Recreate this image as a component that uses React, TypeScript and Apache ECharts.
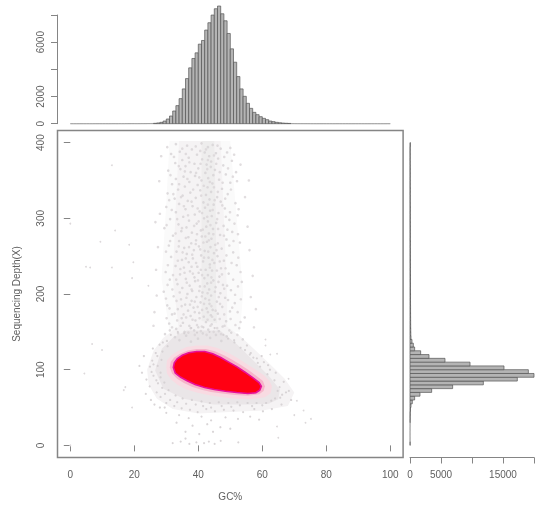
import React, { useEffect, useRef } from "react";
import * as echarts from "echarts";

const gcCounts = [
  2,0,0,1,0,1,0,1,1,2,
  1,2,2,3,2,4,3,5,6,8,
  6,8,9,11,14,18,28,55,100,195,
  345,565,935,1330,1845,2560,3320,4110,4800,5215,
  5855,6125,6890,7430,7995,8460,8660,8090,7575,6640,
  5510,4525,3470,2560,2015,1500,1130,835,665,515,
  395,295,195,150,100,70,45,30,20,12,
  8,6,5,4,3,2,2,1,2,1,
  1,1,0,1,0,0,1,0,0,0,
  1,0,0,0,0,1,0,0,0,1,
];
const depthCounts = [
  25,15,12,12,15,18,25,30,40,80,
  160,375,750,1610,3495,6880,11830,17310,20000,19090,
  15160,9680,5645,3065,1720,750,540,320,160,130,
  120,110,105,100,95,90,90,85,80,85,
  80,75,80,70,75,70,65,70,60,65,
  60,60,55,60,50,55,50,55,50,45,
  50,45,50,45,40,45,40,45,40,40,
  35,40,35,40,35,30,35,30,35,60,
];
const gcTicks = [0, 20, 40, 60, 80, 100];
const depthTicks = [0, 100, 200, 300, 400];
const topTicks = [0, 2000, 4000, 6000, 8000];
const topLabels = [0, 2000, 6000];
const rightTicks = [0, 5000, 10000, 15000, 20000];
const rightLabels = [0, 5000, 15000];

const plumeOuter = [[31,402],[50,402],[52,300],[54,200],[53,150],[31,150],[28.5,220],[30,320]];
const plumeInner = [[34,402],[47,402],[48,300],[49,200],[49,150],[34,150],[32,220],[33,320]];
const plumeStreak = [[41,402],[45,402],[45.5,300],[45.5,200],[46,150],[41,150],[41,250]];
const hazeOuter = [[24,100],[26,125],[29,142],[33,155],[40,165],[48,160],[53,145],[58,125],[63,105],[67,88],[70,70],[68,52],[60,46],[50,44],[40,42],[32,48],[27,62],[24.5,80]];
const hazeInner = [[26.5,99],[28.6,127.6],[32.2,143],[36.4,151.8],[46.8,151.8],[52,134],[57.2,112],[62,92],[65.5,74],[65,61],[62,55],[55.1,54],[44.7,54],[35.4,61.6],[29.1,74.8]];
const pinkOuter = [[30,103],[30.2,112],[31.6,119],[33.5,124.5],[36.3,130],[39.5,132],[42.8,132],[46,128.5],[49.5,122],[52,116],[55,108],[58,100],[60.5,92.5],[62.3,85],[63,78],[62.6,69],[60.8,63.5],[56,61],[51,62],[47,64],[43,66.5],[39.5,70],[36.3,74],[33.5,80],[31.5,87],[30.2,95]];
const pinkInner = [[31.1,103],[31.4,110.5],[32.5,116],[34.3,121],[36.7,125.5],[39.5,127.5],[42.3,127.5],[45.2,124.5],[48,119],[50.6,113],[53.2,106.5],[55.7,99.5],[58.1,92],[60.2,85],[60.8,78],[60.4,72],[59,67.5],[55.5,65.5],[51.5,66.5],[47.5,68.5],[44,70.5],[41,73.5],[38,77.5],[35.5,82.5],[33.4,88],[31.8,95]];
const coreOutline = [[32.2,103],[32.5,109],[33.4,114.5],[35,119],[37,122.5],[39.5,124],[42,124],[44.5,121],[47,116],[49.5,110],[52,104],[54.5,97],[57,89.5],[59,83],[59.7,78],[59.2,73],[58,69.5],[55.5,68.5],[52,69.8],[48.5,71.5],[45,73.8],[42,76.5],[39,80.5],[36.5,85.5],[34.5,90],[32.8,95.5]];

const plumeDots = [
  [33,398],[36.5,396],[41,399],[43,394],[44.5,397],[47,392],[38,391],[34.2,388],[42,387],[45.5,386],[39.6,384],[31.5,385],[49,387],[43.4,382],[37,380],[35,377],[41.2,378],[46.2,379],[50.5,376],[44,375],[32.8,373],[38.8,372],[42.6,371],[47.8,370],[36,369],[43.9,368],[40,366],[34.4,365],[45.2,364],[30.6,363],[51.8,361],[37.6,361],[42.2,360],[48.6,358],[44.7,357],[39,356],[35.4,355],[33,352],[43.1,353],[46.5,351],[41,350],[37.2,348],[50,347],[44.4,346],[31.8,345],[39.8,344],[35.8,342],[42.9,341],[47.4,339],[33.7,338],
  [40.6,337],[44,335],[37.5,334],[30.4,333],[49.2,332],[42.4,331],[35.1,330],[45.9,328],[39.2,327],[32.6,326],[43.5,325],[36.7,323],[47,322],[41.6,321],[51.6,320],[34,319],[44.8,318],[38.2,316],[30,315],[42.1,314],[48.3,313],[36,312],[43.7,310],[40.4,309],[33,308],[46.3,307],[38.9,305],[52.3,304],[44.2,303],[35.3,302],[41.8,300],[31.2,299],[49.7,298],[37.1,297],[43,296],[45.6,294],[39.5,293],[33.8,292],[47.9,290],[42.5,289],[36.3,288],[29.4,287],[44.6,286],[40.8,284],[34.7,283],[50.6,282],[38,281],[43.3,280],[46.8,278],[32.1,277],
  [41.1,276],[36.9,275],[44.1,273],[48.8,272],[39.3,271],[34,270],[42.7,269],[53,268],[37.8,267],[45.3,265],[30.8,264],[40.2,263],[43.8,262],[35.6,261],[47.3,260],[38.6,258],[42,257],[33.2,256],[50.9,255],[44.9,254],[36.4,253],[40.9,251],[46,250],[31.5,249],[43.2,248],[38.3,247],[34.9,245],[48,244],[41.5,243],[37,242],[45,241],[43.6,239],[52,238],[32.9,237],[39.7,236],[35.5,235],[47.1,234],[42.3,232],[44.3,231],[37.4,230],[29.8,229],[40.1,228],[49.5,227],[34.3,226],[43,225],[46.6,223],[38.8,222],[41.9,221],[36.1,220],[31.1,219],
  [44.7,218],[39,217],[53.6,216],[42.8,214],[33.5,213],[47.7,212],[37.3,211],[40.5,210],[45.4,209],[35,208],[43.4,206],[50.2,205],[38.1,204],[29.2,203],[41.3,202],[46.9,201],[36.6,200],[44,198],[32.3,197],[39.4,196],[48.4,195],[42.2,194],[34.6,193],[37.9,191],[45.8,190],[40.7,189],[51.4,188],[43.5,187],[35.9,186],[30.3,185],[47.5,183],[38.5,182],[42.6,181],[33.6,180],[44.5,179],[36.8,178],[49.9,177],[40.3,175],[46.1,174],[31.8,173],[43.9,172],[37.6,171],[41.7,170],[54.5,169],[34.8,168],[45.1,166],[39.1,165],[48.7,164],[42.4,163],[35.2,162],
  [30.9,161],[44.2,160],[37.2,158],[47.6,157],[40,156],[52.8,155],[33.1,154],[43.1,153],[38.7,152],[46.4,151],[35.7,150],[50.3,149],[41.4,148],[29.6,147],[45.5,146],[36.2,145],[48.9,144],[32.7,143],[43.7,142],[39.9,141],[53.9,140],[34.1,139],[47.2,138],[37.7,137],
];
const plumeDotsExtra = [
  [30.3,394],[35,392],[39.2,395],[42.4,391],[46,396],[50,393],[32.4,381],[36.1,385],[40.6,389],[44.9,383],[48.1,381],[51.2,384],[33.9,369],[37.2,374],[40.7,372],[43,377],[45.6,372],[49.3,366],[31.3,357],[35.8,362],[39.3,360],[42.8,365],[46.7,361],[50.8,355],[34,345],[36.6,352],[40.3,354],[43.6,348],[47.6,347],[52.1,349],[32.2,332],[38.4,338],[41.7,343],[44.9,341],[46.1,335],[50.2,338],
  [30.9,324],[34.6,328],[37.9,322],[40.9,330],[43,318],[45.1,324],[48.4,326],[52.6,312],[31.7,311],[35.5,316],[39.8,313],[41.2,307],[44.5,311],[47.5,317],[49.9,308],[33.4,299],[36.8,304],[40.1,296],[42.8,302],[45.9,299],[48.6,302],[51.3,293],[30.1,291],[34.9,287],[38.7,290],[41.4,285],[43.8,291],[46.2,286],[49.1,285],[52.4,279],[32.9,280],[36.1,274],[39.6,279],[42.2,276],[44.7,279],[48,277],[51,270],
  [31.2,270],[33.9,263],[37.1,262],[39.2,266],[41.6,268],[43.3,271],[46.1,267],[49.7,264],[29.9,256],[35.1,255],[38.1,252],[40.6,259],[43.1,256],[45.7,258],[48.8,251],[52.5,248],[33.6,244],[36.1,247],[39.3,241],[41.8,248],[44.4,245],[46.7,243],[50.4,241],[30.5,238],[34.4,233],[37.9,236],[40.8,232],[43.6,235],[45.8,231],[48.5,234],[53.2,229],[32.1,225],[35.7,228],[38.3,227],[41.2,225],[44.1,222],[47.4,226],[50.9,219],
  [30.4,212],[33.1,219],[36.4,215],[39.9,218],[42,210],[44,215],[46.3,216],[49,211],[52.4,210],[31.9,206],[34.2,202],[37.9,206],[40.3,204],[42.9,201],[45.2,203],[48.1,207],[51.5,199],[29.9,194],[33.2,191],[36.3,195],[38.9,190],[41.1,197],[43.4,192],[46.4,196],[49.3,192],[53.3,193],[31,181],[34.8,184],[37.4,186],[39.8,183],[41.8,187],[44.1,184],[46.8,187],[50.6,182],[32.6,174],[35.4,173],[38.9,176],[41.2,179],[43,176],[45.4,178],[48.1,173],[52.3,176],
  [30.1,168],[33.4,165],[36.2,169],[38.2,166],[40.4,168],[42.9,166],[44.3,170],[46.7,167],[50.1,167],[53.2,163],[31.8,156],[34.5,158],[37.6,155],[39.6,159],[41.1,157],[43.8,158],[45.9,155],[48.2,158],[51.6,159],[33.7,148],[36.9,149],[38.9,146],[40.8,151],[42.6,146],[44.8,150],[47.1,147],[49.7,152],[52.2,146],[31.1,152],
  [28.4,382],[53.2,371],[27.8,349],[54.6,328],[28,306],[55.4,289],[27.4,262],[56,258],[26.8,232],[57,224],[27,198],[56.4,196],[26.3,176],[58,180],[26,158],[57.4,156],[55.8,350],[26.6,295],
];
const haloDots = [
  [55.2,132],[27.9,133],[30.2,138],[51.2,139],[56.4,122],[58.3,115],[27.2,118],[25.6,112],[24.9,104],[26,92],[23.8,87],[24.8,78],[27,70],[28.2,64],[25.2,60],[30,56],[32.5,52],[34.8,49],[37.4,47],[39.8,44],[42.5,48],[45.2,45],[48,47],[51,46],[54,44],[57.5,48],
  [60.2,45],[63,48],[66,54],[69,60],[68.3,72],[66.7,84],[64.2,96],[61.8,106],[59.8,118],[34,40],[37,36],[41,38],[44,33],[48.5,37],[52.4,35],[56.2,38],[59,34],[30,43],[28,50],[26.3,54],[23.6,68],[22.4,96],[21.6,105],[23,118],[25.8,128],[29.5,50],[33.2,30],[38.2,26],[42.8,28],[46.9,24],[36,18],[40.3,15],[44.6,18],[50,22],[32,3],[34.5,5],[36,9],[37.2,2],[39.4,4],[41.8,3],[43.3,5],[45.1,2],[47,6],[52.5,4],
  [28.2,96],[27.4,82],[29.6,68],[31.2,60],[33.4,57],[36.2,55],[39.2,54],[41.5,52],[44,50],[47.3,52],[50.3,51],[53,53],[56.8,52],[60,53],[62.8,59],[65.6,63],[67.4,70],[65.4,77],[63.8,86],[61.6,94],[59.3,104],[57.2,116],[54.6,126],[51.3,136],[47.8,146],[43.5,150],[39.6,149],[35.6,148],[31.4,146],[28.9,136],[26.7,122],[26,107],[25.4,97],[26.9,86],[28.7,76],
  [27.3,105],[28.5,113],[28.2,90],[29.4,83],[30.7,73],[32.9,66],[35.1,62],[38,60],[41,58],[43.6,56],[46.4,57],[49.4,56],[52.2,57],[55.4,56],[58.2,56],[61.2,56],[64,62],[66.2,67],[64.8,72],[62.4,100],[60.5,110],[58.6,109],[56.1,120],[53.2,129],[49.3,141],[45.1,155],[41.6,156],[37.8,155],[33.6,150],[30.4,131],[28.8,124],
];
const farDots = [
  [13,370],[0,293],[14,284],[9.4,269],[18.4,265],[19.7,242],[4.9,236],[6.2,235],[13,235],[19.3,221],[24.4,211],[4.4,95],[6.8,134],[9.9,126],[0,0],[19.3,50],[16.7,73],[17.2,77],[72.9,46],[75.2,35],[65,10],[64.6,25],[70.8,59],[68.2,88],[64.6,121],[62.5,120],[61,132],[61,140],[70,40],[73.5,30],
];

const underContours = [plumeOuter, plumeInner, plumeStreak, hazeOuter, hazeInner];
const underStyles = [
  { fill: "#fafafa" },
  { fill: "#f5f3f4" },
  { fill: "#eeeded" },
  { fill: "#f5f3f4" },
  { fill: "#eae6e8" },
];
const overContours = [pinkOuter, pinkInner, coreOutline];
const overStyles = [
  { fill: "#f8dbe2" },
  { fill: "#f7b4c9" },
  { fill: "#ff0012", stroke: "#e8109a", lineWidth: 1.6 },
];

const BOX = "#858585";
const TEXT = "#5f5f5f";
const FONT = "Liberation Sans";
const X_RANGE = { min: -4, max: 104 };
const Y_RANGE = { min: -16, max: 416 };

function contourSeries(shapes: number[][][], styles: any[], z: number) {
  return {
    type: "custom",
    xAxisIndex: 0,
    yAxisIndex: 0,
    z,
    clip: true,
    silent: true,
    data: shapes.map((_, i) => [i]),
    renderItem: (_p: any, api: any) => {
      const i = api.value(0);
      return {
        type: "polygon",
        shape: { points: shapes[i].map((p) => api.coord(p)) },
        style: styles[i],
      };
    },
  };
}

function histSeries(data: number[][], axis: number, horizontal: boolean) {
  return {
    type: "custom",
    xAxisIndex: axis,
    yAxisIndex: axis,
    silent: true,
    clip: false,
    data,
    renderItem: (_p: any, api: any) => {
      const lo = api.value(0);
      const hi = api.value(1);
      const n = api.value(2);
      const a = horizontal ? api.coord([0, hi]) : api.coord([lo, n]);
      const b = horizontal ? api.coord([n, lo]) : api.coord([hi, 0]);
      return {
        type: "rect",
        shape: { x: a[0], y: a[1], width: b[0] - a[0], height: b[1] - a[1] },
        style: { fill: "#b4b4b4", stroke: n < 20 ? "#999999" : "#555555", lineWidth: 0.7 },
      };
    },
  };
}

const plain = (v: number) => String(v);

export default function App() {
  const ref = useRef<HTMLDivElement>(null);
  useEffect(() => {
    const chart = echarts.init(ref.current!, undefined, { renderer: "svg" });
    const label = { color: TEXT, fontSize: 10, fontFamily: FONT };
    const line = { lineStyle: { color: BOX, width: 1 } };
    const dots = (data: number[][], size: number, color: string, opacity: number) => ({
      type: "scatter", xAxisIndex: 0, yAxisIndex: 0, z: 2, silent: true, symbol: "circle", symbolSize: size,
      data, itemStyle: { color, opacity },
    });
    chart.setOption({
      animation: false,
      backgroundColor: "#ffffff",
      grid: [
        { left: 57.5, top: 130.5, width: 345.6, height: 327, show: true, borderColor: BOX, borderWidth: 1.5, backgroundColor: "#ffffff" },
        { left: 57.5, top: 15, width: 345.6, height: 108.7 },
        { left: 410, top: 130.5, width: 124, height: 327 },
      ],
      xAxis: [
        {
          gridIndex: 0, type: "value", ...X_RANGE, position: "bottom", splitLine: { show: false },
          axisLine: { show: false },
          axisTick: { show: true, length: 6, customValues: gcTicks, ...line },
          axisLabel: { ...label, margin: 12, customValues: gcTicks, formatter: plain },
          name: "GC%", nameLocation: "middle", nameGap: 34, nameTextStyle: { ...label },
        },
        { gridIndex: 1, type: "value", ...X_RANGE, show: false },
        {
          gridIndex: 2, type: "value", min: 0, max: 20000, position: "bottom", splitLine: { show: false },
          axisLine: { show: true, onZero: false, ...line },
          axisTick: { show: true, length: 6, customValues: rightTicks, ...line },
          axisLabel: { ...label, margin: 12, customValues: rightLabels, formatter: plain },
        },
      ],
      yAxis: [
        {
          gridIndex: 0, type: "value", ...Y_RANGE, splitLine: { show: false },
          axisLine: { show: false },
          axisTick: { show: true, length: 6.5, customValues: depthTicks, ...line },
          axisLabel: { ...label, rotate: 90, margin: 12, customValues: depthTicks, formatter: plain },
          name: "Sequencing Depth(X)", nameLocation: "middle", nameGap: 36, nameRotate: 90, nameTextStyle: { ...label, fontSize: 10 },
        },
        {
          gridIndex: 1, type: "value", min: 0, max: 8000, splitLine: { show: false },
          axisLine: { show: true, onZero: false, ...line },
          axisTick: { show: true, length: 6.5, customValues: topTicks, ...line },
          axisLabel: { ...label, rotate: 90, margin: 12, customValues: topLabels, formatter: plain },
        },
        { gridIndex: 2, type: "value", ...Y_RANGE, show: false },
      ],
      series: [
        contourSeries(underContours, underStyles, 1),
        dots(plumeDots, 2.6, "#d6d2d4", 0.8),
        dots(plumeDotsExtra, 2.6, "#d9d5d7", 0.8),
        dots(haloDots, 2.2, "#d2ced0", 0.85),
        dots(farDots, 1.8, "#dcd8da", 1),
        contourSeries(overContours, overStyles, 3),
        histSeries(gcCounts.map((n, i) => [i, i + 1, n]), 1, false),
        histSeries(depthCounts.map((n, i) => [i * 5, (i + 1) * 5, n]), 2, true),
      ],
    });
    return () => chart.dispose();
  }, []);
  return (
    <div
      ref={ref}
      style={{ position: "fixed", left: 0, top: 0, width: 550, height: 516, filter: "blur(0.5px)" }}
    />
  );
}
